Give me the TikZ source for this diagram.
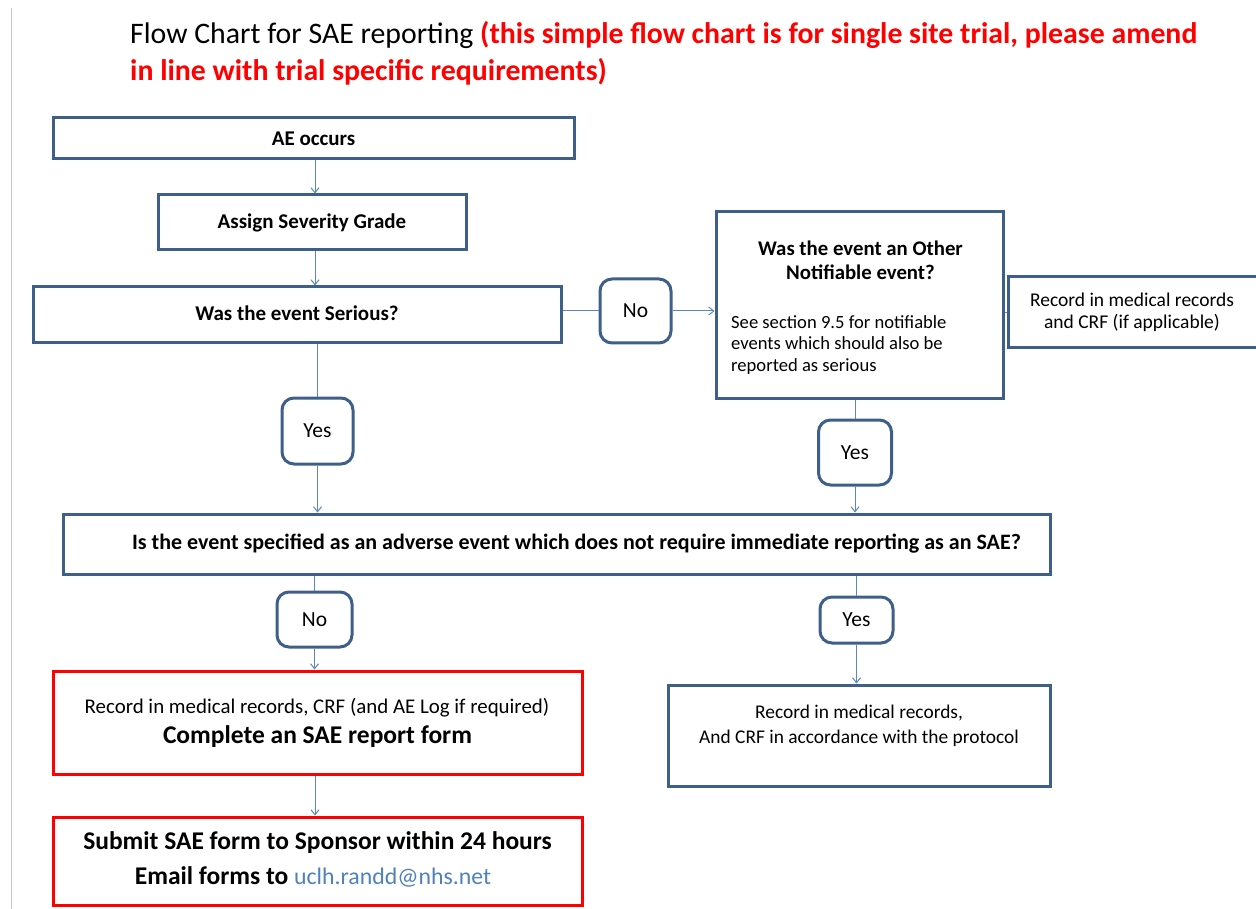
\documentclass[tikz,border=0pt]{standalone}
\usepackage{fontspec}
\setmainfont{Carlito}
\usetikzlibrary{arrows.meta}
\definecolor{boxblue}{HTML}{3F5F8B}
\definecolor{linkblue}{HTML}{5B86BE}
\definecolor{redline}{HTML}{FF0000}
\definecolor{mailblue}{HTML}{4F81BD}
\begin{document}
\begin{tikzpicture}[x=1pt,y=-1pt,
  box/.style={draw=boxblue, line width=3pt, rectangle, inner sep=0pt, align=center, fill=white, font=\bfseries\fontsize{21}{24}\selectfont},
  redbox/.style={draw=redline, line width=3pt, rectangle, inner sep=0pt, align=center, fill=white},
  tag/.style={draw=boxblue, line width=3pt, rounded corners=12pt, inner sep=0pt, fill=white, font=\fontsize{21.5}{24}\selectfont},
  plain/.style={inner sep=0pt, align=center},
  link/.style={draw=linkblue, line width=1pt},
  arr/.style={link, -{Straight Barb[length=5pt,width=8pt]}},
]
\useasboundingbox (0,0) rectangle (1256,909);
\fill[white] (0,0) rectangle (1256,909);
\coordinate (gtop) at (11,8);
\coordinate (gbot) at (11,909);
\draw[gray!45, line width=1pt] (gtop) -- (gbot);

% title
\node[plain, anchor=north west, align=left, font=\fontsize{29.8}{37}\selectfont] (title) at (130,21)
 {Flow Chart for SAE reporting \textcolor{redline}{\bfseries(this simple flow chart is for single site trial, please amend}\\\textcolor{redline}{\bfseries in line with trial specific requirements)}};

% boxes
\node[box, minimum width=521pt, minimum height=41pt] (ae) at (313.5,138.5) {AE occurs};
\node[box, minimum width=308pt, minimum height=55pt] (assign) at (312,222.5) {Assign Severity Grade};
\node[box, minimum width=528pt, minimum height=56pt] (serious) at (297,315) {\raisebox{4pt}{Was the event Serious?}};
\node[tag, minimum width=71pt, minimum height=64pt] (no1) at (635.5,311) {No};
\node[box, minimum width=287pt, minimum height=186pt] (other) at (859.5,305) {};
\node[plain, font=\bfseries\fontsize{20.8}{24}\selectfont] (othertitle) at (860.5,260) {Was the event an Other\\Notifiable event?};
\node[plain, anchor=north west, align=left, font=\fontsize{18.6}{21.5}\selectfont] (othernote) at (731,315) {See section 9.5 for notifiable\\events which should also be\\reported as serious};
\node[box, font=\fontsize{19.5}{22}\selectfont, minimum width=254pt, minimum height=71pt] (record1) at (1135,312.5) {\hspace*{-6pt}Record in medical records\\\hspace*{-6pt}and CRF (if applicable)};
\node[tag, minimum width=71pt, minimum height=66pt] (yes1) at (317.5,431) {Yes};
\node[tag, minimum width=73pt, minimum height=65pt] (yes2) at (855,452.5) {Yes};
\node[box, minimum width=987pt, minimum height=60pt] (isbox) at (556.5,544) {};
\node[plain, font=\bfseries\fontsize{22}{24}\selectfont] (istext) at (576.5,544) {Is the event specified as an adverse event which does not require immediate reporting as an SAE?};
\node[tag, minimum width=75pt, minimum height=55pt] (no2) at (314.5,619.5) {No};
\node[tag, minimum width=73pt, minimum height=46pt] (yes3) at (856.5,620) {Yes};
\node[redbox, minimum width=529pt, minimum height=103pt] (red1) at (317.5,722.5) {};
\node[plain, font=\fontsize{20.9}{24}\selectfont] (red1a) at (317,708) {Record in medical records, CRF (and AE Log if required)};
\node[plain, font=\bfseries\fontsize{25.5}{28}\selectfont] (red1b) at (317.5,737) {Complete an SAE report form};
\node[box, minimum width=382pt, minimum height=101pt] (rec2) at (859,735.5) {};
\node[plain, font=\fontsize{19.4}{25}\selectfont] (rec2text) at (859,725.5) {Record in medical records,\\And CRF in accordance with the protocol};
\node[redbox, minimum width=529pt, minimum height=88pt] (red2) at (317.5,861) {};
\node[plain, font=\bfseries\fontsize{25.5}{28}\selectfont] (red2a) at (317.5,843) {Submit SAE form to Sponsor within 24 hours};
\node[plain, font=\bfseries\fontsize{25.5}{28}\selectfont] (red2b) at (313,877) {Email forms to {\mdseries\fontsize{23.8}{28}\selectfont\textcolor{mailblue}{uclh.randd@nhs.net}}};

% connectors
\draw[arr] (ae.south -| 315,0) -- (assign.north -| 315,0);
\draw[arr] (assign.south -| 315,0) -- (serious.north -| 315,0);
\draw[link] (serious.east |- no1.west) -- (no1.west);
\draw[arr] (no1.east) -- (other.west |- no1.east);
\draw[link] (other.east |- record1.west) -- (record1.west);
\draw[link] (serious.south -| yes1.north) -- (yes1.north);
\draw[arr] (yes1.south) -- (yes1.south |- isbox.north);
\draw[link] (other.south -| yes2.north) -- (yes2.north);
\draw[arr] (yes2.south) -- (yes2.south |- isbox.north);
\draw[link] (isbox.south -| no2.north) -- (no2.north);
\draw[arr] (no2.south) -- (no2.south |- red1.north);
\draw[link] (isbox.south -| yes3.north) -- (yes3.north);
\draw[arr] (yes3.south) -- (yes3.south |- rec2.north);
\draw[arr] (red1.south -| 315,0) -- (red2.north -| 315,0);
\end{tikzpicture}
\end{document}
